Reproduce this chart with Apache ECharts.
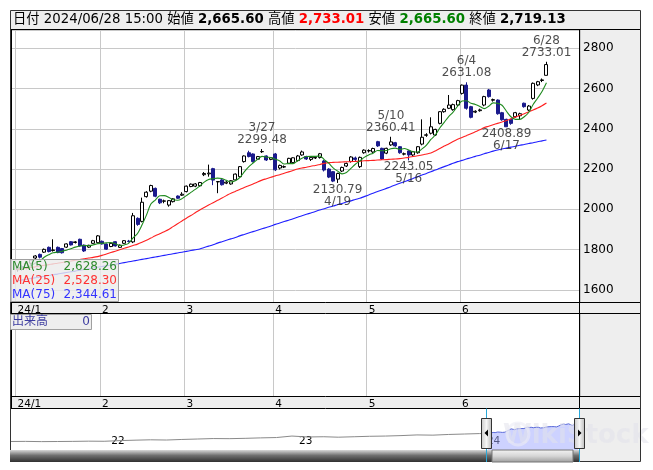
<!DOCTYPE html>
<html><head><meta charset="utf-8">
<script src="https://cdn.jsdelivr.net/npm/echarts/dist/echarts.min.js"></script>
<style>html,body{margin:0;padding:0;background:#fff}#c{width:653px;height:470px}</style>
</head><body><div id="c"></div>
<script>
// ---- trading days (2024) ----
const janDays = [4,5,9,10,11,12,15,16,17,18,19,22,23,24,25,26,29,30,31];
const febDays = [1,2,5,6,7,8,9,13,14,15,16,19,20,21,22,26,27,28,29];
const marDays = [1,4,5,6,7,8,11,12,13,14,15,18,19,21,22,25,26,27,28,29];
const aprDays = [1,2,3,4,5,8,9,10,11,12,15,16,17,18,19,22,23,24,25,26,30];
const mayDays = [1,2,7,8,9,10,13,14,15,16,17,20,21,22,23,24,27,28,29,30,31];
const junDays = [3,4,5,6,7,10,11,12,13,14,17,18,19,20,21,24,25,26,27,28];
const monthTickLabels = ['24/1','2','3','4','5','6'];

// ---- OHLC ----
const opens = [1700,1715,1708,1732,1758,1776,1787,1811,1795,1811,1805,1812,1839,1835,1851,1822,1812,1831,1834,1841,
1827,1815,1839,1811,1831,1842,1838,1955,1940,2063,2090,2104,2050,2040,2021,2038,2066,2070,2088,2113,
2115,2117,2172,2176,2202,2136,2146,2130,2126,2146,2162,2237,2281,2275,2249,2286,2265,2248,2275,2205,
2210,2229,2232,2242,2270,2262,2248,2255,2257,2240,2200,2187,2150,2190,2215,2238,2255,2212,2281,2290,
2285,2336,2303,2279,2320,2331,2311,2274,2290,2270,2281,2324,2368,2378,2369,2427,2485,2502,2495,2518,
2576,2617,2510,2483,2490,2518,2593,2542,2543,2480,2447,2447,2460,2465,2527,2493,2551,2618,2640,2665.60];
const closes = [1712,1705,1730,1748,1768,1762,1801,1790,1798,1785,1784,1828,1823,1838,1818,1793,1821,1844,1868,1828,
1802,1831,1818,1822,1844,1840,1968,1925,2035,2085,2118,2065,2032,2042,2043,2052,2055,2075,2115,2125,
2126,2133,2178,2180,2145,2138,2122,2135,2142,2175,2212,2265,2262,2237,2262,2287,2245,2256,2196,2218,
2212,2253,2256,2265,2285,2250,2258,2258,2276,2195,2160,2140,2178,2208,2228,2260,2248,2258,2294,2292,
2302,2315,2250,2303,2335,2315,2281,2276,2270,2286,2311,2358,2370,2410,2397,2485,2497,2518,2520,2540,
2617,2502,2457,2487,2494,2560,2560,2545,2475,2445,2410,2427,2480,2475,2510,2513,2626,2634,2643,2719.13];
const lows = [1690,1695,1702,1725,1752,1756,1783,1786,1790,1782,1780,1808,1820,1830,1815,1788,1808,1828,1830,1825,
1798,1812,1815,1808,1828,1835,1832,1918,1935,2058,2085,2060,2026,2030,2013,2034,2052,2066,2084,2110,
2110,2112,2165,2162,2120,2080,2118,2125,2122,2142,2158,2232,2258,2233,2245,2280,2240,2244,2190,2198,
2205,2225,2228,2238,2266,2245,2240,2250,2252,2188,2155,2135,2130.79,2185,2210,2232,2240,2205,2276,2282,
2280,2310,2245,2274,2315,2310,2276,2268,2243.05,2262,2276,2318,2360,2372,2364,2422,2480,2498,2490,2512,
2570,2495,2452,2478,2485,2512,2555,2535,2470,2440,2408.89,2420,2455,2445,2505,2488,2545,2612,2632,2665.60];
const highs = [1720,1722,1736,1752,1772,1780,1805,1815,1851,1815,1808,1831,1842,1842,1854,1825,1824,1848,1872,1845,
1830,1834,1842,1825,1847,1848,1982,1960,2058,2090,2122,2108,2053,2048,2046,2055,2069,2085,2118,2128,
2130,2136,2185,2222,2206,2140,2150,2140,2145,2178,2215,2268,2291,2278,2265,2299.48,2268,2260,2280,2222,
2218,2256,2258,2270,2292,2266,2262,2262,2280,2245,2204,2190,2182,2212,2232,2264,2262,2262,2298,2298,
2306,2340,2306,2306,2360.41,2335,2314,2282,2293,2290,2314,2447,2378,2457,2400,2488,2502,2568,2525,2544,
2620,2631.08,2514,2492,2500,2564,2598,2550,2546,2484,2450,2450,2484,2480,2530,2518,2630,2638,2650,2733.01];

// ---- moving averages ----
const ma5 = [1705,1708,1712,1720,1733,1743,1762,1774,1784,1787,1792,1797,1804,1812,1818,1820,1819,1823,1829,1831,
1833,1835,1829,1820,1823,1831,1858,1880,1922,1971,2026,2046,2067,2068,2060,2047,2045,2053,2068,2084,
2099,2115,2135,2148,2152,2155,2153,2144,2136,2142,2157,2186,2211,2230,2248,2263,2259,2257,2249,2240,
2225,2227,2227,2241,2254,2262,2263,2263,2265,2247,2229,2206,2190,2176,2183,2203,2224,2240,2258,2270,
2279,2292,2291,2292,2301,2304,2297,2302,2295,2286,2285,2300,2319,2347,2369,2404,2432,2461,2483,2512,
2538,2539,2527,2521,2511,2500,2512,2529,2527,2517,2487,2460,2447,2447,2460,2481,2521,2552,2585,2628.26];
const ma25 = [1700,1704,1707,1711,1714,1718,1722,1725,1729,1732,1736,1740,1743,1747,1750,1754,1758,1761,1765,
1771,1778,1785,1792,1799,1806,1813,1820,1827,1836,1846,1857,1868,1878,1889,1900,
1914,1928,1942,1956,1969,1983,1997,2009,2021,2033,2045,2056,2068,2080,
2089,2098,2108,2117,2126,2136,2145,2152,2159,2166,2172,2179,2186,2193,2200,
2205,2209,2214,2218,2223,2228,2232,2233,2234,2235,2236,2237,2238,2239,2241,2242,2243,2245,
2246,2247,2249,2250,2252,2255,2258,2262,2266,2270,2275,2280,2290,2302,2314,2325,2337,2348,
2357,2366,2375,2385,2395,2406,2413,2420,2427,2434,2441,2449,2458,2466,2475,2484,2493,2503,2515,2528.30];
const ma75 = [1645,1649,1652,1656,1660,1664,1667,1671,1675,1678,1682,1686,1690,1693,1697,1701,1704,1708,1712,1716,1719,1723,1727,
1731,1735,1739,1743,1747,1751,1755,1759,1763,1767,1771,1775,1779,1783,1787,1791,1795,1799,1803,
1810,1817,1824,1832,1839,1846,1853,1860,1868,1875,1882,1889,1896,1903,
1910,1917,1925,1932,1939,1946,1953,1961,1968,1975,1982,1989,1997,
2003,2010,2016,2023,2029,2036,2042,2049,2055,
2063,2071,2080,2088,2096,2104,2112,2121,2129,2137,2145,2153,2162,
2170,2178,2187,2195,2204,2212,2220,2229,2237,
2243,2250,2256,2263,2269,2276,2282,2289,2295,
2300,2304,2309,2313,2318,2322,2327,2331,2336,2340,2344.61];

// ---- annotated highs / lows ----
const highMarks = ['2024-03-27','2024-05-10','2024-06-04','2024-06-28'];
const lowMarks = ['2024-04-19','2024-05-16','2024-06-17'];

// ---- navigator history (monthly, read from the overview strip) ----
const navDates = ['2021-06-20','2021-07-20','2021-08-20','2021-09-20','2021-10-20','2021-11-20','2021-12-20',
'2022-01-20','2022-02-20','2022-03-20','2022-04-20','2022-05-20','2022-06-20','2022-07-20','2022-08-20','2022-09-20',
'2022-10-20','2022-11-20','2022-12-20','2023-01-20','2023-02-20','2023-03-20','2023-04-20','2023-05-20','2023-06-20',
'2023-07-20','2023-08-20','2023-09-20','2023-10-20','2023-11-20','2023-12-20'];
const navValues = [1000,1010,990,1000,1010,1030,1020,1080,1120,1150,1130,1180,1220,1260,1250,1280,1320,1350,1480,
1400,1420,1380,1420,1460,1480,1520,1580,1560,1620,1660,1700];

// ---- build ----
const pad2 = n => (n < 10 ? '0' : '') + n;
const monthLists = [janDays, febDays, marDays, aprDays, mayDays, junDays];
const dates = [];
monthLists.forEach((days, m) => days.forEach(d => dates.push('2024-' + pad2(m + 1) + '-' + pad2(d))));
const NSLOT = 127;
const cats = dates.slice();
for (let k = cats.length; k < NSLOT; k++) cats.push('pad' + k);
const monthStart = {};
let mi = 0;
dates.forEach((d, i) => { if (i === 0 || d.slice(5, 7) !== dates[i - 1].slice(5, 7)) { monthStart[i] = monthTickLabels[mi++]; } });

const ohlc = dates.map((d, i) => [opens[i], closes[i], lows[i], highs[i]]);
const md = d => (+d.slice(5, 7)) + '/' + (+d.slice(8, 10));
const highLbl = highMarks.map(d => { const i = dates.indexOf(d); return [d, highs[i], md(d) + '\n' + highs[i].toFixed(2)]; });
const lowLbl = lowMarks.map(d => { const i = dates.indexOf(d); return [d, lows[i], lows[i].toFixed(2) + '\n' + md(d)]; });

const FONT = "'DejaVu Sans','Noto Sans CJK JP',sans-serif";
const YMIN = 1539.4, YMAX = 2890.9;
const X0 = 15.3, XW = 564.5;
const fmt = v => echarts.format.addCommas(v.toFixed(2));
const last = dates.length - 1;
const ld = dates[last];

const xCatAxis = (gi) => ({
  type: 'category', gridIndex: gi, data: cats, boundaryGap: true,
  axisLine: { show: false }, axisTick: { show: false },
  axisLabel: { interval: (i) => monthStart[i] !== undefined, formatter: (v, i) => monthStart[i] || '',
    align: 'left', margin: 3, fontSize: 10.5, color: '#000', fontFamily: FONT },
  splitLine: { show: true, interval: (i) => monthStart[i] !== undefined, lineStyle: { color: '#c8c8c8', width: 1 } }
});

const G = [];
const rect = (x, y, w, h, style, z) => G.push({ type: 'rect', shape: { x, y, width: w, height: h }, style, z: z, silent: true });
const line = (x1, y1, x2, y2, stroke, z, lw) => G.push({ type: 'line', shape: { x1, y1, x2, y2 }, style: { stroke, lineWidth: lw || 1 }, z: z || 100, silent: true });
const text = (x, y, t, style, z) => G.push({ type: 'text', x, y, style: Object.assign({ text: t, fontFamily: FONT }, style), z: z || 101, silent: true });

// backgrounds
rect(10, 10, 631, 452, { fill: '#fff' }, -20);
rect(10, 10, 631, 19.5, { fill: '#eeeeee' }, -10);
rect(579.5, 29.5, 61.5, 379, { fill: '#eeeeee' }, -10);
rect(10, 302, 631, 12, { fill: '#eeeeee' }, -10);
rect(10, 396, 631, 12, { fill: '#eeeeee' }, -10);
rect(580, 408.5, 61, 53.5, { fill: '#eeeeee' }, -10);

// frame lines
line(10, 29.5, 641, 29.5, '#000');
line(11.5, 29.5, 11.5, 408.5, '#000');
line(579.5, 29.5, 579.5, 408.5, '#000');
line(10, 302.5, 641, 302.5, '#000');
line(10, 313.5, 641, 313.5, '#000');
line(10, 396.5, 641, 396.5, '#000');
line(10, 408.5, 641, 408.5, '#000');
G.push({ type: 'rect', shape: { x: 10.5, y: 10.5, width: 630, height: 451 }, style: { fill: 'none', stroke: '#333', lineWidth: 1 }, z: 100, silent: true });

// header
const HF = 13.3;
G.push({ type: 'text', x: 13, y: 20, z: 101, silent: true, style: {
  text: '{l|日付 ' + ld.replace(/-/g, '/') + ' 15:00 始値 }{b|' + fmt(opens[last]) + '}{l| 高値 }{r|' + fmt(highs[last]) +
        '}{l| 安値 }{g|' + fmt(lows[last]) + '}{l| 終値 }{b|' + fmt(closes[last]) + '}',
  verticalAlign: 'middle', fontFamily: FONT, fontSize: HF,
  rich: {
    l: { fontFamily: FONT, fontSize: HF, fill: '#000' },
    b: { fontFamily: FONT, fontSize: HF, fontWeight: 'bold', fill: '#000' },
    r: { fontFamily: FONT, fontSize: HF, fontWeight: 'bold', fill: '#ff0000' },
    g: { fontFamily: FONT, fontSize: HF, fontWeight: 'bold', fill: '#008000' }
  } } });

// MA legend box
G.push({ type: 'rect', shape: { x: 10.5, y: 259.5, width: 108, height: 42 }, style: { fill: 'rgba(236,236,236,0.82)', stroke: '#a0a0a0' }, z: 100, silent: true });
const maInfo = [['MA(5)', ma5, '#2e8b2e'], ['MA(25)', ma25, '#ff3333'], ['MA(75)', ma75, '#3333ff']];
maInfo.forEach((m, k) => {
  const yy = 266.5 + k * 14.3;
  text(12, yy, m[0], { fontSize: 12, fill: m[2], verticalAlign: 'middle' });
  text(117, yy, fmt(m[1][m[1].length - 1]), { fontSize: 12, fill: m[2], verticalAlign: 'middle', align: 'right' });
});

// volume label box
G.push({ type: 'rect', shape: { x: 10.5, y: 314.5, width: 81, height: 15 }, style: { fill: '#eeeeee', stroke: '#a0a0a0' }, z: 100, silent: true });
text(12, 322, '出来高', { fontSize: 12, fill: '#3c3ca0', verticalAlign: 'middle' });
text(90, 322, '0', { fontSize: 12, fill: '#3c3ca0', verticalAlign: 'middle', align: 'right' });

// navigator decorations
G.push({ type: 'text', x: 503, y: 436, z: 99, silent: true, style: { text: 'WikiStock', fontFamily: FONT, fontSize: 26, fontWeight: 'bold', fill: 'rgba(225,225,235,0.55)', verticalAlign: 'middle' } });
G.push({ type: 'circle', shape: { cx: 518, cy: 434, r: 11 }, style: { fill: 'none', stroke: 'rgba(235,235,245,0.6)', lineWidth: 3 }, z: 99, silent: true });
rect(10, 450, 570, 12, { fill: new echarts.graphic.LinearGradient(0, 0, 0, 1, [{ offset: 0, color: '#d8d8d8' }, { offset: 0.45, color: '#707070' }, { offset: 1, color: '#303030' }]) }, 100);
rect(492, 450, 81, 12, { fill: new echarts.graphic.LinearGradient(0, 0, 0, 1, [{ offset: 0, color: '#f4f4f4' }, { offset: 0.5, color: '#d6d6d6' }, { offset: 1, color: '#9a9a9a' }]), stroke: '#777' }, 101);
line(486.5, 408.5, 486.5, 462, '#29a8d8', 102);
line(579.5, 408.5, 579.5, 462, '#29a8d8', 102);
rect(481.5, 418.5, 10, 30, { fill: new echarts.graphic.LinearGradient(0, 0, 1, 0, [{ offset: 0, color: '#c8c8c8' }, { offset: 0.5, color: '#f6f6f6' }, { offset: 1, color: '#b8b8b8' }]), stroke: '#333' }, 103);
rect(574.5, 418.5, 10, 30, { fill: new echarts.graphic.LinearGradient(0, 0, 1, 0, [{ offset: 0, color: '#c8c8c8' }, { offset: 0.5, color: '#f6f6f6' }, { offset: 1, color: '#b8b8b8' }]), stroke: '#333' }, 103);
G.push({ type: 'polygon', shape: { points: [[484.5, 433], [488, 429.5], [488, 436.5]] }, style: { fill: '#000' }, z: 104, silent: true });
G.push({ type: 'polygon', shape: { points: [[581.5, 433], [578, 429.5], [578, 436.5]] }, style: { fill: '#000' }, z: 104, silent: true });

const option = {
  animation: false,
  backgroundColor: '#fff',
  textStyle: { fontFamily: FONT },
  grid: [
    { left: 12, top: 30, width: 567, height: 272 },
    { left: X0, top: 30, width: XW, height: 272 },
    { left: X0, top: 314, width: XW, height: 82 },
    { left: 10, top: 410, width: 569, height: 40 }
  ],
  xAxis: [
    { type: 'value', gridIndex: 0, show: false, min: 0, max: 1 },
    xCatAxis(1),
    xCatAxis(2),
    { type: 'time', gridIndex: 3, min: '2021-06-20', max: '2024-06-30', splitNumber: 3,
      axisLine: { show: false }, axisTick: { show: false }, splitLine: { show: false },
      axisLabel: { inside: true, margin: 3, align: 'left', fontSize: 10.5, color: '#000', backgroundColor: '#fff', padding: [0, 1],
        formatter: (val) => { const d = new Date(val); return (d.getMonth() === 0 && d.getDate() === 1) ? String(d.getFullYear()).slice(2) : ''; } } }
  ],
  yAxis: [
    { type: 'value', gridIndex: 0, position: 'right', min: YMIN, max: YMAX, splitNumber: 7, minInterval: 200, maxInterval: 200,
      axisLine: { show: false }, axisTick: { show: false },
      axisLabel: { margin: 4, fontSize: 12, color: '#000', fontFamily: FONT, showMinLabel: false, showMaxLabel: false,
        formatter: v => (Math.abs(v % 200) < 1e-6 ? String(v) : '') },
      splitLine: { lineStyle: { color: '#c8c8c8' } } },
    { type: 'value', gridIndex: 1, show: false, min: YMIN, max: YMAX },
    { type: 'value', gridIndex: 2, show: false, min: 0, max: 1 },
    { type: 'value', gridIndex: 3, show: false, min: 250, max: 3780 }
  ],
  graphic: { elements: G },
  series: [
    { type: 'candlestick', xAxisIndex: 1, yAxisIndex: 1, data: ohlc, barWidth: 3.5, z: 3,
      itemStyle: { color: '#ffffff', color0: '#1a1a8c', borderColor: '#000000', borderColor0: '#1a1a8c', borderWidth: 1 } },
    { type: 'line', name: 'MA25', xAxisIndex: 1, yAxisIndex: 1, data: ma25, showSymbol: false, smooth: 0.3, z: 4,
      lineStyle: { color: '#ff2020', width: 1.1 } },
    { type: 'line', name: 'MA75', xAxisIndex: 1, yAxisIndex: 1, data: ma75, showSymbol: false, smooth: 0.3, z: 4,
      lineStyle: { color: '#2020ff', width: 1.1 } },
    { type: 'line', name: 'MA5', xAxisIndex: 1, yAxisIndex: 1, data: ma5, showSymbol: false, smooth: 0.3, z: 5,
      lineStyle: { color: '#1e8a1e', width: 1.1 } },
    { type: 'scatter', xAxisIndex: 1, yAxisIndex: 1, data: highLbl, symbolSize: 1, itemStyle: { color: 'rgba(0,0,0,0)' }, z: 6,
      label: { show: true, position: 'top', distance: 2.5, formatter: p => p.data[2], fontSize: 12, lineHeight: 12, color: '#222', fontFamily: FONT } },
    { type: 'scatter', xAxisIndex: 1, yAxisIndex: 1, data: lowLbl, symbolSize: 1, itemStyle: { color: 'rgba(0,0,0,0)' }, z: 6,
      label: { show: true, position: 'bottom', distance: 0, formatter: p => p.data[2], fontSize: 12, lineHeight: 12, color: '#222', fontFamily: FONT } },
    { type: 'line', xAxisIndex: 3, yAxisIndex: 3, data: navDates.map((d, i) => [d, navValues[i]]).concat([[dates[0], closes[0]]]),
      showSymbol: false, lineStyle: { color: '#8a8a8a', width: 1 }, z: 2 },
    { type: 'line', xAxisIndex: 3, yAxisIndex: 3, data: dates.map((d, i) => [d, closes[i]]),
      showSymbol: false, lineStyle: { color: '#5a6ad8', width: 1 }, areaStyle: { color: 'rgba(160,170,255,0.75)', origin: 'start' }, z: 2 }
  ]
};
const chart = echarts.init(document.getElementById('c'), null, { renderer: 'canvas' });
chart.setOption(option);
</script></body></html>
